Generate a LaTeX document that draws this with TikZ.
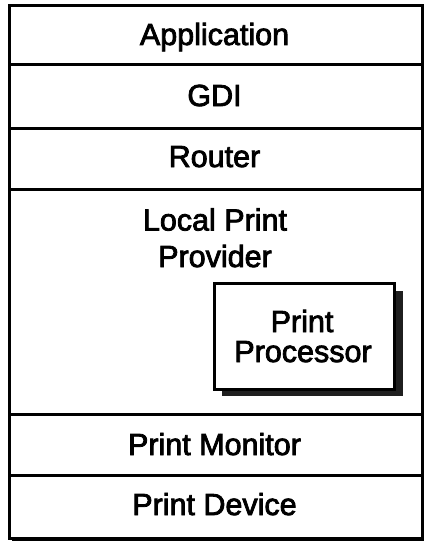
\documentclass[tikz,border=0pt]{standalone}
\usepackage{fontspec}
\setmainfont{Liberation Sans}
\newfontface\lblfont{Liberation Sans}[FakeBold=2.6]
\begin{document}
\begin{tikzpicture}[x=1pt,y=-1pt,line width=3.2pt,
  lbl/.style={font=\lblfont\fontsize{30.5}{36}\selectfont, inner sep=0pt, anchor=base},
  layer/.style={draw=black, fill=white, rectangle, inner sep=0pt, anchor=north west, minimum width=413pt},
  procbox/.style={draw=black, fill=white, rectangle, inner sep=0pt, anchor=north west, minimum width=180pt, minimum height=106pt},
  shadowfill/.style={fill=black!88, draw=none}]
\useasboundingbox (0,0) rectangle (425,543);
\fill[white] (0,0) rectangle (425,543);
% outer shadow
\fill[black] (12,8) rectangle (423.5,541);
% layers
\node[layer, minimum height=59pt] (app) at (8,4) {};
\node[layer, minimum height=64pt] (gdi) at (8,63) {};
\node[layer, minimum height=61pt] (rtr) at (8,127) {};
\node[layer, minimum height=225pt] (lpp) at (8,188) {};
\node[layer, minimum height=61pt] (pm) at (8,413) {};
\node[layer, minimum height=63pt] (pd) at (8,474) {};
% print processor
\fill[shadowfill] (222,291) rectangle (403,396);
\node[procbox] (pp) at (213,282) {};
% labels
\node[lbl] (tapp) at (214.5,45) {Application};
\node[lbl] (tgdi) at (214.5,106) {GDI};
\node[lbl] (trtr) at (214.5,167) {Router};
\node[lbl] (tlpp1) at (215,230.5) {Local Print};
\node[lbl] (tlpp2) at (215,267) {Provider};
\node[lbl] (tpp1) at (302,332) {Print};
\node[lbl] (tpp2) at (303,362) {Processor};
\node[lbl] (tpm) at (214.5,455) {Print Monitor};
\node[lbl] (tpd) at (214.5,515) {Print Device};
\end{tikzpicture}
\end{document}
